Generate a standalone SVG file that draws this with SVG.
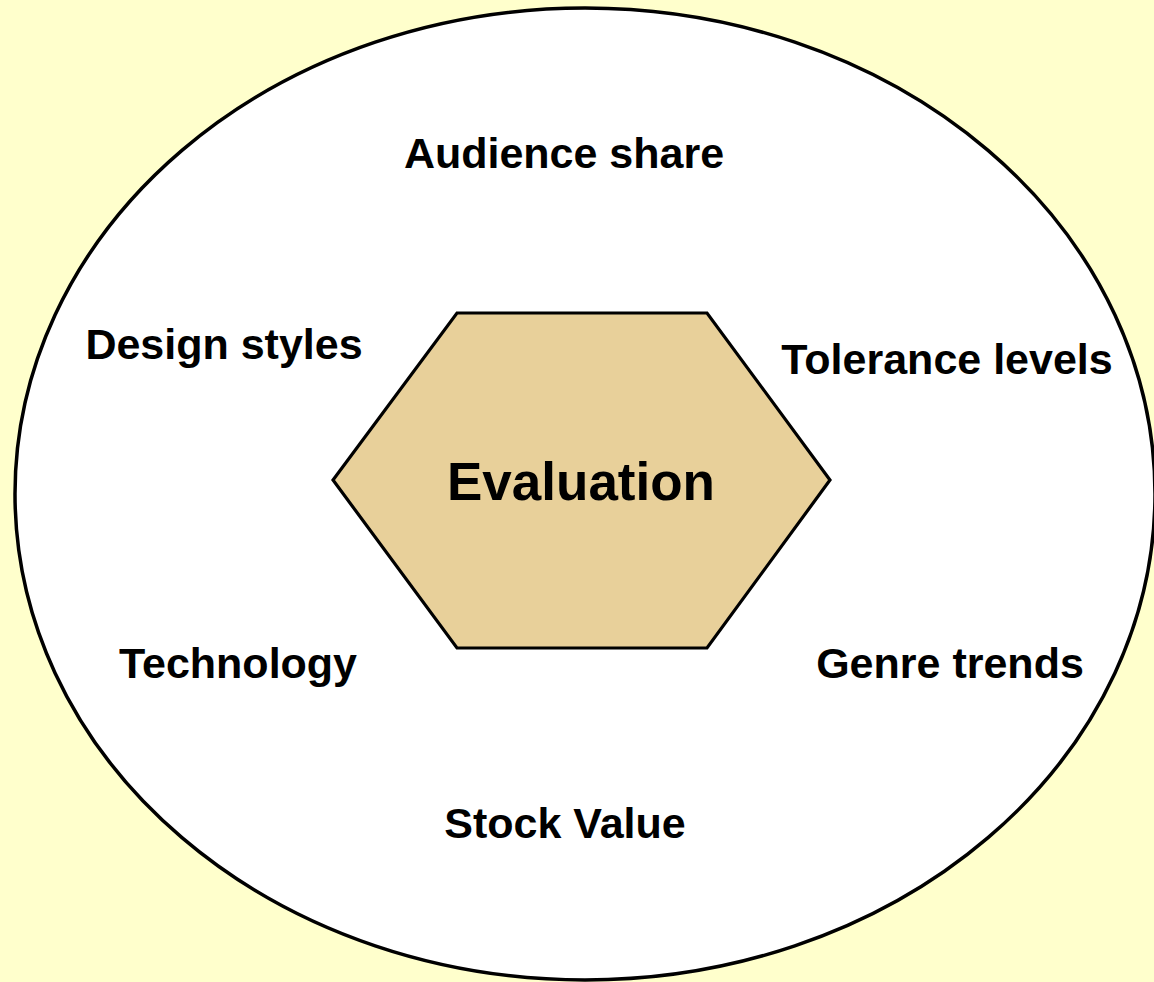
<svg xmlns="http://www.w3.org/2000/svg" width="1154" height="982" viewBox="0 0 1154 982">
<style>
.lbl{font-family:"Liberation Sans",Arial,sans-serif;font-weight:bold;font-size:43px;fill:#000;text-anchor:middle}
.title{font-family:"Liberation Sans",Arial,sans-serif;font-weight:bold;font-size:53px;fill:#000;text-anchor:middle}
</style>
<rect x="0" y="0" width="1154" height="982" fill="#FFFFCC"/>
<g id="context">
<ellipse cx="585" cy="494" rx="570" ry="486" fill="#FFFFFF" stroke="#000" stroke-width="3.5"/>
</g>
<g id="connectors"></g>
<g id="evaluation">
<polygon points="457,313 707,313 830,480 707,648 457,648 333,480" fill="#E8D09A" stroke="#000" stroke-width="3.2" stroke-linejoin="miter"/>
<text class="title" x="581" y="500">Evaluation</text>
</g>
<g id="audience-share"><text class="lbl" x="564" y="168">Audience share</text></g>
<g id="design-styles"><text class="lbl" x="224" y="359">Design styles</text></g>
<g id="tolerance-levels"><text class="lbl" x="947" y="374">Tolerance levels</text></g>
<g id="technology"><text class="lbl" x="238" y="678">Technology</text></g>
<g id="genre-trends"><text class="lbl" x="950" y="678">Genre trends</text></g>
<g id="stock-value"><text class="lbl" x="565" y="838">Stock Value</text></g>
</svg>
